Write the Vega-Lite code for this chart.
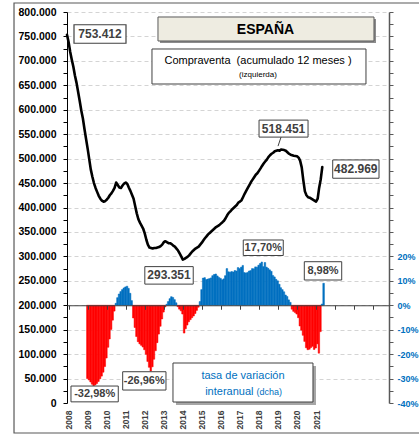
{
"$schema": "https://vega.github.io/schema/vega-lite/v6.json",
"width": 322, "height": 391,
"autosize": {"type": "none"},
"padding": {"left": 67, "top": 12, "right": 30, "bottom": 37},
"background": "#ffffff",
"config": {
  "locale": {"number": {"decimal": ",", "thousands": ".", "grouping": [3], "currency": ["", " €"], "minus": "-"}},
  "view": {"stroke": null},
  "font": "Liberation Sans"
},
"datasets": {
"line": [
{"date":"2007-12-01","value":753412},{"date":"2008-01-01","value":738000},{"date":"2008-02-01","value":718000},{"date":"2008-03-01","value":703000},{"date":"2008-04-01","value":688000},{"date":"2008-05-01","value":670000},{"date":"2008-06-01","value":655000},{"date":"2008-07-01","value":637000},{"date":"2008-08-01","value":618000},{"date":"2008-09-01","value":598000},{"date":"2008-10-01","value":582000},{"date":"2008-11-01","value":560000},{"date":"2008-12-01","value":540000},
{"date":"2009-01-01","value":520000},{"date":"2009-02-01","value":498000},{"date":"2009-03-01","value":478000},{"date":"2009-04-01","value":463000},{"date":"2009-05-01","value":450000},{"date":"2009-06-01","value":440000},{"date":"2009-07-01","value":432000},{"date":"2009-08-01","value":424000},{"date":"2009-09-01","value":418000},{"date":"2009-10-01","value":414000},{"date":"2009-11-01","value":412000},{"date":"2009-12-01","value":413000},
{"date":"2010-01-01","value":416000},{"date":"2010-02-01","value":420000},{"date":"2010-03-01","value":425000},{"date":"2010-04-01","value":429000},{"date":"2010-05-01","value":434000},{"date":"2010-06-01","value":440000},{"date":"2010-07-01","value":451000},{"date":"2010-08-01","value":446000},{"date":"2010-09-01","value":441000},{"date":"2010-10-01","value":440000},{"date":"2010-11-01","value":445000},{"date":"2010-12-01","value":449000},
{"date":"2011-01-01","value":451000},{"date":"2011-02-01","value":448000},{"date":"2011-03-01","value":441000},{"date":"2011-04-01","value":434000},{"date":"2011-05-01","value":426000},{"date":"2011-06-01","value":418000},{"date":"2011-07-01","value":403000},{"date":"2011-08-01","value":388000},{"date":"2011-09-01","value":376000},{"date":"2011-10-01","value":369000},{"date":"2011-11-01","value":363000},{"date":"2011-12-01","value":357000},
{"date":"2012-01-01","value":347000},{"date":"2012-02-01","value":334000},{"date":"2012-03-01","value":324000},{"date":"2012-04-01","value":318000},{"date":"2012-05-01","value":317000},{"date":"2012-06-01","value":316000},{"date":"2012-07-01","value":317000},{"date":"2012-08-01","value":317000},{"date":"2012-09-01","value":318000},{"date":"2012-10-01","value":319000},{"date":"2012-11-01","value":321000},{"date":"2012-12-01","value":324000},
{"date":"2013-01-01","value":329000},{"date":"2013-02-01","value":331000},{"date":"2013-03-01","value":329000},{"date":"2013-04-01","value":327000},{"date":"2013-05-01","value":327000},{"date":"2013-06-01","value":325000},{"date":"2013-07-01","value":322000},{"date":"2013-08-01","value":320000},{"date":"2013-09-01","value":316000},{"date":"2013-10-01","value":312000},{"date":"2013-11-01","value":306000},{"date":"2013-12-01","value":300000},
{"date":"2014-01-01","value":293351},{"date":"2014-02-01","value":295000},{"date":"2014-03-01","value":297000},{"date":"2014-04-01","value":299000},{"date":"2014-05-01","value":302000},{"date":"2014-06-01","value":306000},{"date":"2014-07-01","value":310000},{"date":"2014-08-01","value":313000},{"date":"2014-09-01","value":316000},{"date":"2014-10-01","value":318000},{"date":"2014-11-01","value":320000},{"date":"2014-12-01","value":324000},
{"date":"2015-01-01","value":328000},{"date":"2015-02-01","value":333000},{"date":"2015-03-01","value":337000},{"date":"2015-04-01","value":341000},{"date":"2015-05-01","value":345000},{"date":"2015-06-01","value":348000},{"date":"2015-07-01","value":351000},{"date":"2015-08-01","value":354000},{"date":"2015-09-01","value":357000},{"date":"2015-10-01","value":360000},{"date":"2015-11-01","value":362000},{"date":"2015-12-01","value":364000},
{"date":"2016-01-01","value":367000},{"date":"2016-02-01","value":370000},{"date":"2016-03-01","value":373000},{"date":"2016-04-01","value":378000},{"date":"2016-05-01","value":384000},{"date":"2016-06-01","value":389000},{"date":"2016-07-01","value":392000},{"date":"2016-08-01","value":396000},{"date":"2016-09-01","value":399000},{"date":"2016-10-01","value":402000},{"date":"2016-11-01","value":405000},{"date":"2016-12-01","value":410000},
{"date":"2017-01-01","value":412000},{"date":"2017-02-01","value":415000},{"date":"2017-03-01","value":421000},{"date":"2017-04-01","value":428000},{"date":"2017-05-01","value":434000},{"date":"2017-06-01","value":440000},{"date":"2017-07-01","value":446000},{"date":"2017-08-01","value":452000},{"date":"2017-09-01","value":457000},{"date":"2017-10-01","value":462000},{"date":"2017-11-01","value":467000},{"date":"2017-12-01","value":470000},
{"date":"2018-01-01","value":475000},{"date":"2018-02-01","value":480000},{"date":"2018-03-01","value":485000},{"date":"2018-04-01","value":490000},{"date":"2018-05-01","value":494000},{"date":"2018-06-01","value":498000},{"date":"2018-07-01","value":503000},{"date":"2018-08-01","value":507000},{"date":"2018-09-01","value":510000},{"date":"2018-10-01","value":512000},{"date":"2018-11-01","value":515000},{"date":"2018-12-01","value":516000},
{"date":"2019-01-01","value":517000},{"date":"2019-02-01","value":516000},{"date":"2019-03-01","value":518451},{"date":"2019-04-01","value":518000},{"date":"2019-05-01","value":517500},{"date":"2019-06-01","value":516000},{"date":"2019-07-01","value":513000},{"date":"2019-08-01","value":510000},{"date":"2019-09-01","value":508000},{"date":"2019-10-01","value":507000},{"date":"2019-11-01","value":506000},{"date":"2019-12-01","value":505500},
{"date":"2020-01-01","value":505000},{"date":"2020-02-01","value":502000},{"date":"2020-03-01","value":496000},{"date":"2020-04-01","value":482000},{"date":"2020-05-01","value":456000},{"date":"2020-06-01","value":433000},{"date":"2020-07-01","value":425000},{"date":"2020-08-01","value":421000},{"date":"2020-09-01","value":420000},{"date":"2020-10-01","value":418000},{"date":"2020-11-01","value":416000},{"date":"2020-12-01","value":414000},
{"date":"2021-01-01","value":412000},{"date":"2021-02-01","value":418000},{"date":"2021-03-01","value":440000},{"date":"2021-04-01","value":458000},{"date":"2021-05-01","value":482969}
],
"rate": [
{"date":"2008-12-01","rate":-30.0},
{"date":"2009-01-01","rate":-30.6},{"date":"2009-02-01","rate":-31.4},{"date":"2009-03-01","rate":-32.3},{"date":"2009-04-01","rate":-32.98},{"date":"2009-05-01","rate":-32.6},{"date":"2009-06-01","rate":-32.0},{"date":"2009-07-01","rate":-31.2},{"date":"2009-08-01","rate":-30.1},{"date":"2009-09-01","rate":-29.0},{"date":"2009-10-01","rate":-27.4},{"date":"2009-11-01","rate":-25.1},{"date":"2009-12-01","rate":-21.6},
{"date":"2010-01-01","rate":-17.2},{"date":"2010-02-01","rate":-13.8},{"date":"2010-03-01","rate":-9.9},{"date":"2010-04-01","rate":-6.1},{"date":"2010-05-01","rate":-2.4},{"date":"2010-06-01","rate":0.8},{"date":"2010-07-01","rate":3.1},{"date":"2010-08-01","rate":4.6},{"date":"2010-09-01","rate":5.6},{"date":"2010-10-01","rate":6.4},{"date":"2010-11-01","rate":7.1},{"date":"2010-12-01","rate":7.5},
{"date":"2011-01-01","rate":7.8},{"date":"2011-02-01","rate":6.9},{"date":"2011-03-01","rate":4.9},{"date":"2011-04-01","rate":1.9},{"date":"2011-05-01","rate":-5.2},{"date":"2011-06-01","rate":-9.1},{"date":"2011-07-01","rate":-12.8},{"date":"2011-08-01","rate":-14.9},{"date":"2011-09-01","rate":-15.8},{"date":"2011-10-01","rate":-16.4},{"date":"2011-11-01","rate":-17.1},{"date":"2011-12-01","rate":-18.2},
{"date":"2012-01-01","rate":-20.1},{"date":"2012-02-01","rate":-23.0},{"date":"2012-03-01","rate":-25.4},{"date":"2012-04-01","rate":-26.96},{"date":"2012-05-01","rate":-25.2},{"date":"2012-06-01","rate":-22.1},{"date":"2012-07-01","rate":-18.6},{"date":"2012-08-01","rate":-15.3},{"date":"2012-09-01","rate":-11.8},{"date":"2012-10-01","rate":-8.6},{"date":"2012-11-01","rate":-5.6},{"date":"2012-12-01","rate":-2.8},
{"date":"2013-01-01","rate":-0.7},{"date":"2013-02-01","rate":0.4},{"date":"2013-03-01","rate":1.5},{"date":"2013-04-01","rate":2.7},{"date":"2013-05-01","rate":3.5},{"date":"2013-06-01","rate":3.2},{"date":"2013-07-01","rate":2.3},{"date":"2013-08-01","rate":1.0},{"date":"2013-09-01","rate":-0.6},{"date":"2013-10-01","rate":-1.6},{"date":"2013-11-01","rate":-2.3},{"date":"2013-12-01","rate":-3.6},
{"date":"2014-01-01","rate":-11.4},{"date":"2014-02-01","rate":-9.6},{"date":"2014-03-01","rate":-8.1},{"date":"2014-04-01","rate":-6.8},{"date":"2014-05-01","rate":-5.9},{"date":"2014-06-01","rate":-5.1},{"date":"2014-07-01","rate":-4.4},{"date":"2014-08-01","rate":-3.4},{"date":"2014-09-01","rate":-2.1},{"date":"2014-10-01","rate":-0.8},{"date":"2014-11-01","rate":1.5},{"date":"2014-12-01","rate":6.4},
{"date":"2015-01-01","rate":11.1},{"date":"2015-02-01","rate":11.3},{"date":"2015-03-01","rate":10.5},{"date":"2015-04-01","rate":10.7},{"date":"2015-05-01","rate":10.9},{"date":"2015-06-01","rate":11.2},{"date":"2015-07-01","rate":12.1},{"date":"2015-08-01","rate":12.6},{"date":"2015-09-01","rate":12.8},{"date":"2015-10-01","rate":12.0},{"date":"2015-11-01","rate":11.4},{"date":"2015-12-01","rate":11.0},
{"date":"2016-01-01","rate":10.4},{"date":"2016-02-01","rate":10.8},{"date":"2016-03-01","rate":12.1},{"date":"2016-04-01","rate":15.0},{"date":"2016-05-01","rate":13.7},{"date":"2016-06-01","rate":13.5},{"date":"2016-07-01","rate":13.8},{"date":"2016-08-01","rate":13.6},{"date":"2016-09-01","rate":14.2},{"date":"2016-10-01","rate":14.0},{"date":"2016-11-01","rate":15.4},{"date":"2016-12-01","rate":15.0},
{"date":"2017-01-01","rate":15.6},{"date":"2017-02-01","rate":16.3},{"date":"2017-03-01","rate":13.4},{"date":"2017-04-01","rate":13.2},{"date":"2017-05-01","rate":13.4},{"date":"2017-06-01","rate":14.0},{"date":"2017-07-01","rate":14.2},{"date":"2017-08-01","rate":15.0},{"date":"2017-09-01","rate":14.9},{"date":"2017-10-01","rate":15.7},{"date":"2017-11-01","rate":15.6},{"date":"2017-12-01","rate":16.4},
{"date":"2018-01-01","rate":17.1},{"date":"2018-02-01","rate":17.7},{"date":"2018-03-01","rate":15.8},{"date":"2018-04-01","rate":17.5},{"date":"2018-05-01","rate":15.6},{"date":"2018-06-01","rate":15.1},{"date":"2018-07-01","rate":14.5},{"date":"2018-08-01","rate":13.9},{"date":"2018-09-01","rate":12.2},{"date":"2018-10-01","rate":11.6},{"date":"2018-11-01","rate":10.6},{"date":"2018-12-01","rate":10.0},
{"date":"2019-01-01","rate":8.6},{"date":"2019-02-01","rate":7.2},{"date":"2019-03-01","rate":6.4},{"date":"2019-04-01","rate":5.5},{"date":"2019-05-01","rate":4.2},{"date":"2019-06-01","rate":3.6},{"date":"2019-07-01","rate":2.2},{"date":"2019-08-01","rate":1.2},{"date":"2019-09-01","rate":-1.6},{"date":"2019-10-01","rate":-2.5},{"date":"2019-11-01","rate":-3.0},{"date":"2019-12-01","rate":-3.6},
{"date":"2020-01-01","rate":-5.1},{"date":"2020-02-01","rate":-8.5},{"date":"2020-03-01","rate":-10.2},{"date":"2020-04-01","rate":-12.3},{"date":"2020-05-01","rate":-14.8},{"date":"2020-06-01","rate":-17.4},{"date":"2020-07-01","rate":-18.2},{"date":"2020-08-01","rate":-18.0},{"date":"2020-09-01","rate":-17.3},{"date":"2020-10-01","rate":-16.8},{"date":"2020-11-01","rate":-18.1},{"date":"2020-12-01","rate":-17.5},
{"date":"2021-01-01","rate":-15.8},{"date":"2021-02-01","rate":-19.6},{"date":"2021-03-01","rate":-10.8},{"date":"2021-04-01","rate":0.5},{"date":"2021-05-01","rate":8.98}
]
},
"layer": [
    {
      "data": {"name": "rate"},
      "mark": {"type": "bar", "strokeWidth": 0.5, "binSpacing": 0},
      "encoding": {
        "x": {"field": "date", "type": "temporal", "timeUnit": "utcyearmonth",
              "scale": {"type": "utc", "domain": [{"year": 2007, "month": 12, "date": 1, "utc": true}, {"year": 2024, "month": 11, "date": 1, "utc": true}]},
              "axis": {"orient": "bottom", "offset": -97.75, "title": null, "labels": false, "grid": false, "ticks": true, "tickSize": 4, "tickColor": "#404040", "domain": true, "domainColor": "#404040", "domainWidth": 1, "zindex": 1,
                "values": [{"year":2008,"month":1,"date":1,"utc":true},{"year":2009,"month":1,"date":1,"utc":true},{"year":2010,"month":1,"date":1,"utc":true},{"year":2011,"month":1,"date":1,"utc":true},{"year":2012,"month":1,"date":1,"utc":true},{"year":2013,"month":1,"date":1,"utc":true},{"year":2014,"month":1,"date":1,"utc":true},{"year":2015,"month":1,"date":1,"utc":true},{"year":2016,"month":1,"date":1,"utc":true},{"year":2017,"month":1,"date":1,"utc":true},{"year":2018,"month":1,"date":1,"utc":true},{"year":2019,"month":1,"date":1,"utc":true},{"year":2020,"month":1,"date":1,"utc":true},{"year":2021,"month":1,"date":1,"utc":true},{"year":2022,"month":1,"date":1,"utc":true},{"year":2023,"month":1,"date":1,"utc":true},{"year":2024,"month":1,"date":1,"utc":true}]}},
        "y": {"field": "rate", "type": "quantitative", "scale": {"domain": [-40, 120], "nice": false, "zero": false},
              "axis": {"orient": "right", "title": null, "grid": false, "format": "d",
                "values": [-40,-35,-30,-25,-20,-15,-10,-5,0,5,10,15,20,25,30,35,40,45,50,55,60,65,70,75,80,85,90,95,100,105,110,115,120],
                "labelExpr": "(datum.value <= 20 && datum.value % 10 == 0) ? datum.label + '%' : ''",
                "tickSize": 4, "tickColor": "#595959", "domainColor": "#595959", "domainWidth": 1.5,
                "labelColor": "#0070C0", "labelFont": "Liberation Sans", "labelFontSize": 9, "labelFontWeight": "bold", "labelPadding": 4, "labelOverlap": false, "labelBound": false}},
        "color": {"condition": {"test": "datum.rate < 0", "value": "#FF0000"}, "value": "#0070C0"},
        "stroke": {"condition": {"test": "datum.rate < 0", "value": "#FF0000"}, "value": "#0070C0"}
      }
    },
    {
      "data": {"name": "line"},
      "mark": {"type": "line", "color": "#000000", "strokeWidth": 2.6, "strokeJoin": "round", "strokeCap": "round"},
      "encoding": {
        "x": {"field": "date", "type": "temporal",
              "scale": {"type": "utc", "domain": [{"year": 2007, "month": 12, "date": 1, "utc": true}, {"year": 2024, "month": 11, "date": 1, "utc": true}]},
              "axis": {"orient": "bottom", "title": null, "format": "%Y", "formatType": "utc", "labelAngle": -90, "domain": false, "ticks": false, "tickSize": 0, "grid": false, "labelPadding": 7,
                "labelColor": "#404040", "labelFont": "Liberation Sans", "labelFontSize": 8.5, "labelFontWeight": "bold", "labelOverlap": false, "labelFlush": false, "labelBound": false,
                "values": [{"year":2008,"month":1,"date":1,"utc":true},{"year":2009,"month":1,"date":1,"utc":true},{"year":2010,"month":1,"date":1,"utc":true},{"year":2011,"month":1,"date":1,"utc":true},{"year":2012,"month":1,"date":1,"utc":true},{"year":2013,"month":1,"date":1,"utc":true},{"year":2014,"month":1,"date":1,"utc":true},{"year":2015,"month":1,"date":1,"utc":true},{"year":2016,"month":1,"date":1,"utc":true},{"year":2017,"month":1,"date":1,"utc":true},{"year":2018,"month":1,"date":1,"utc":true},{"year":2019,"month":1,"date":1,"utc":true},{"year":2020,"month":1,"date":1,"utc":true},{"year":2021,"month":1,"date":1,"utc":true}]}},
        "y": {"field": "value", "type": "quantitative", "scale": {"domain": [0, 800000], "nice": false, "zero": false},
              "axis": {"orient": "left", "title": null, "format": ",.0f",
                "values": [0,25000,50000,75000,100000,125000,150000,175000,200000,225000,250000,275000,300000,325000,350000,375000,400000,425000,450000,475000,500000,525000,550000,575000,600000,625000,650000,675000,700000,725000,750000,775000,800000],
                "labelExpr": "datum.value % 50000 == 0 ? datum.label : ''",
                "tickSize": 4, "tickColor": "#000000", "domainColor": "#000000", "domainWidth": 1,
                "labelColor": "#000000", "labelFont": "Liberation Sans", "labelFontSize": 10.5, "labelFontWeight": "bold", "labelPadding": 7, "labelOverlap": false, "labelBound": false,
                "grid": true, "gridColor": "#d4d4d4", "gridDash": [4, 3], "gridWidth": 1,
                "gridOpacity": {"condition": {"test": "datum.value % 50000 == 0 && datum.value > 0", "value": 1}, "value": 0}}}
      }
    },
    {
      "data": {"name": "rate"},
      "transform": [{"filter": "datum.rate == -32.98"}, {"calculate": "format(datum.rate, '.2f') + '%'", "as": "lbl"}],
      "encoding": {
        "x": {"field": "date", "type": "temporal", "scale": {"type": "utc", "domain": [{"year": 2007, "month": 12, "date": 1, "utc": true}, {"year": 2024, "month": 11, "date": 1, "utc": true}]}, "axis": null},
        "y": {"field": "rate", "type": "quantitative", "scale": {"domain": [-40, 120], "nice": false, "zero": false}, "axis": null}
      },
      "layer": [
        {"mark": {"type": "point", "shape": "M-21.4,0.2H25.9V16H-21.4Z", "size": 4, "filled": true, "fill": "#ffffff", "stroke": "#404040", "strokeWidth": 1, "opacity": 1, "fillOpacity": 1, "strokeOpacity": 1}},
        {"mark": {"type": "text", "dx": 2.3, "dy": 8.3, "align": "center", "baseline": "middle", "font": "Liberation Sans", "fontSize": 11, "fontWeight": "bold", "color": "#404040"}, "encoding": {"text": {"field": "lbl"}}}
      ]
    },
    {
      "data": {"name": "rate"},
      "transform": [{"filter": "datum.rate == -26.96"}, {"calculate": "format(datum.rate, '.2f') + '%'", "as": "lbl"}],
      "encoding": {
        "x": {"field": "date", "type": "temporal", "scale": {"type": "utc", "domain": [{"year": 2007, "month": 12, "date": 1, "utc": true}, {"year": 2024, "month": 11, "date": 1, "utc": true}]}, "axis": null},
        "y": {"field": "rate", "type": "quantitative", "scale": {"domain": [-40, 120], "nice": false, "zero": false}, "axis": null}
      },
      "layer": [
        {"mark": {"type": "point", "shape": "M-26.8,0.6H16.5V18.9H-26.8Z", "size": 4, "filled": true, "fill": "#ffffff", "stroke": "#404040", "strokeWidth": 1, "opacity": 1, "fillOpacity": 1, "strokeOpacity": 1}},
        {"mark": {"type": "text", "dx": -5.2, "dy": 10, "align": "center", "baseline": "middle", "font": "Liberation Sans", "fontSize": 11, "fontWeight": "bold", "color": "#404040"}, "encoding": {"text": {"field": "lbl"}}}
      ]
    },
    {
      "data": {"name": "rate"},
      "transform": [{"filter": "datum.rate == 17.7"}, {"calculate": "format(datum.rate, '.2f') + '%'", "as": "lbl"}],
      "encoding": {
        "x": {"field": "date", "type": "temporal", "scale": {"type": "utc", "domain": [{"year": 2007, "month": 12, "date": 1, "utc": true}, {"year": 2024, "month": 11, "date": 1, "utc": true}]}, "axis": null},
        "y": {"field": "rate", "type": "quantitative", "scale": {"domain": [-40, 120], "nice": false, "zero": false}, "axis": null}
      },
      "layer": [
        {"mark": {"type": "point", "shape": "M-17.3,-22H22.7V-6.5H-17.3Z", "size": 4, "filled": true, "fill": "#ffffff", "stroke": "#404040", "strokeWidth": 1, "opacity": 1, "fillOpacity": 1, "strokeOpacity": 1}},
        {"mark": {"type": "text", "dx": 2.7, "dy": -14.2, "align": "center", "baseline": "middle", "font": "Liberation Sans", "fontSize": 11, "fontWeight": "bold", "color": "#404040"}, "encoding": {"text": {"field": "lbl"}}}
      ]
    },
    {
      "data": {"name": "rate"},
      "transform": [{"filter": "datum.rate == 8.98"}, {"calculate": "format(datum.rate, '.2f') + '%'", "as": "lbl"}],
      "encoding": {
        "x": {"field": "date", "type": "temporal", "scale": {"type": "utc", "domain": [{"year": 2007, "month": 12, "date": 1, "utc": true}, {"year": 2024, "month": 11, "date": 1, "utc": true}]}, "axis": null},
        "y": {"field": "rate", "type": "quantitative", "scale": {"domain": [-40, 120], "nice": false, "zero": false}, "axis": null}
      },
      "layer": [
        {"mark": {"type": "point", "shape": "M-18,-21.6H19.4V-3.3H-18Z", "size": 4, "filled": true, "fill": "#ffffff", "stroke": "#404040", "strokeWidth": 1, "opacity": 1, "fillOpacity": 1, "strokeOpacity": 1}},
        {"mark": {"type": "text", "dx": 0.7, "dy": -12.3, "align": "center", "baseline": "middle", "font": "Liberation Sans", "fontSize": 11, "fontWeight": "bold", "color": "#404040"}, "encoding": {"text": {"field": "lbl"}}}
      ]
    },
    {
      "data": {"name": "line"},
      "transform": [{"filter": "datum.value == 753412"}],
      "encoding": {
        "x": {"field": "date", "type": "temporal", "scale": {"type": "utc", "domain": [{"year": 2007, "month": 12, "date": 1, "utc": true}, {"year": 2024, "month": 11, "date": 1, "utc": true}]}, "axis": null},
        "y": {"field": "value", "type": "quantitative", "scale": {"domain": [0, 800000], "nice": false, "zero": false}, "axis": null}
      },
      "layer": [
        {"mark": {"type": "point", "shape": "M7,-10H59V8.5H7Z", "size": 4, "filled": true, "fill": "#ffffff", "stroke": "#404040", "strokeWidth": 1.2, "opacity": 1, "fillOpacity": 1, "strokeOpacity": 1}},
        {"mark": {"type": "text", "dx": 33, "dy": -0.6, "align": "center", "baseline": "middle", "font": "Liberation Sans", "fontSize": 12, "fontWeight": "bold", "color": "#404040"}, "encoding": {"text": {"field": "value", "type": "quantitative", "format": ",.0f"}}}
      ]
    },
    {
      "data": {"name": "line"},
      "transform": [{"filter": "datum.value == 293351"}],
      "encoding": {
        "x": {"field": "date", "type": "temporal", "scale": {"type": "utc", "domain": [{"year": 2007, "month": 12, "date": 1, "utc": true}, {"year": 2024, "month": 11, "date": 1, "utc": true}]}, "axis": null},
        "y": {"field": "value", "type": "quantitative", "scale": {"domain": [0, 800000], "nice": false, "zero": false}, "axis": null}
      },
      "layer": [
        {"mark": {"type": "point", "shape": "M-38,7H10.4V24.5H-38Z", "size": 4, "filled": true, "fill": "#ffffff", "stroke": "#404040", "strokeWidth": 1, "opacity": 1, "fillOpacity": 1, "strokeOpacity": 1}},
        {"mark": {"type": "text", "dx": -13.8, "dy": 15.8, "align": "center", "baseline": "middle", "font": "Liberation Sans", "fontSize": 12, "fontWeight": "bold", "color": "#404040"}, "encoding": {"text": {"field": "value", "type": "quantitative", "format": ",.0f"}}}
      ]
    },
    {
      "data": {"name": "line"},
      "transform": [{"filter": "datum.value == 518451"}],
      "encoding": {
        "x": {"field": "date", "type": "temporal", "scale": {"type": "utc", "domain": [{"year": 2007, "month": 12, "date": 1, "utc": true}, {"year": 2024, "month": 11, "date": 1, "utc": true}]}, "axis": null},
        "y": {"field": "value", "type": "quantitative", "scale": {"domain": [0, 800000], "nice": false, "zero": false}, "axis": null}
      },
      "layer": [
        {"mark": {"type": "point", "shape": "M-22,-29.5H27V-12.5H-22Z M0,-12.5L-3,-3.5", "size": 4, "filled": true, "fill": "#ffffff", "stroke": "#404040", "strokeWidth": 1, "opacity": 1, "fillOpacity": 1, "strokeOpacity": 1}},
        {"mark": {"type": "text", "dx": 2.5, "dy": -21, "align": "center", "baseline": "middle", "font": "Liberation Sans", "fontSize": 12, "fontWeight": "bold", "color": "#404040"}, "encoding": {"text": {"field": "value", "type": "quantitative", "format": ",.0f"}}}
      ]
    },
    {
      "data": {"name": "line"},
      "transform": [{"filter": "datum.value == 482969"}],
      "encoding": {
        "x": {"field": "date", "type": "temporal", "scale": {"type": "utc", "domain": [{"year": 2007, "month": 12, "date": 1, "utc": true}, {"year": 2024, "month": 11, "date": 1, "utc": true}]}, "axis": null},
        "y": {"field": "value", "type": "quantitative", "scale": {"domain": [0, 800000], "nice": false, "zero": false}, "axis": null}
      },
      "layer": [
        {"mark": {"type": "point", "shape": "M10.4,-7H56.7V11.3H10.4Z", "size": 4, "filled": true, "fill": "#ffffff", "stroke": "#404040", "strokeWidth": 1, "opacity": 1, "fillOpacity": 1, "strokeOpacity": 1}},
        {"mark": {"type": "text", "dx": 33.5, "dy": 2.2, "align": "center", "baseline": "middle", "font": "Liberation Sans", "fontSize": 12, "fontWeight": "bold", "color": "#404040"}, "encoding": {"text": {"field": "value", "type": "quantitative", "format": ",.0f"}}}
      ]
    },
    {
      "data": {"values": [{}]},
      "mark": {"type": "rect", "fill": "#8c8c8c", "xOffset": 2, "x2Offset": 2, "yOffset": 2, "y2Offset": 2},
      "encoding": {
        "x": {"datum": {"year": 2012, "month": 9, "date": 11, "utc": true}, "type": "temporal", "scale": {"type": "utc", "domain": [{"year": 2007, "month": 12, "date": 1, "utc": true}, {"year": 2024, "month": 11, "date": 1, "utc": true}]}, "axis": null},
        "x2": {"datum": {"year": 2024, "month": 1, "date": 18, "utc": true}},
        "y": {"datum": 789770, "type": "quantitative", "scale": {"domain": [0, 800000], "nice": false, "zero": false}, "axis": null},
        "y2": {"datum": 740665}
      }
    },
    {
      "data": {"values": [{}]},
      "mark": {"type": "rect", "fill": "#EEECE1", "stroke": "#595959", "strokeWidth": 1},
      "encoding": {
        "x": {"datum": {"year": 2012, "month": 9, "date": 11, "utc": true}, "type": "temporal", "scale": {"type": "utc", "domain": [{"year": 2007, "month": 12, "date": 1, "utc": true}, {"year": 2024, "month": 11, "date": 1, "utc": true}]}, "axis": null},
        "x2": {"datum": {"year": 2024, "month": 1, "date": 18, "utc": true}},
        "y": {"datum": 789770, "type": "quantitative", "scale": {"domain": [0, 800000], "nice": false, "zero": false}, "axis": null},
        "y2": {"datum": 740665}
      }
    },
    {
      "data": {"values": [{}]},
      "mark": {"type": "text", "text": "ESPAÑA", "align": "center", "baseline": "middle", "font": "Liberation Sans", "fontSize": 14, "fontWeight": "bold", "color": "#000000"},
      "encoding": {
        "x": {"datum": {"year": 2018, "month": 5, "date": 7, "utc": true}, "type": "temporal", "scale": {"type": "utc", "domain": [{"year": 2007, "month": 12, "date": 1, "utc": true}, {"year": 2024, "month": 11, "date": 1, "utc": true}]}, "axis": null},
        "y": {"datum": 763171, "type": "quantitative", "scale": {"domain": [0, 800000], "nice": false, "zero": false}, "axis": null}
      }
    },
    {
      "data": {"values": [{}]},
      "mark": {"type": "rect", "fill": "#ffffff", "stroke": "#404040", "strokeWidth": 1},
      "encoding": {
        "x": {"datum": {"year": 2012, "month": 5, "date": 19, "utc": true}, "type": "temporal", "scale": {"type": "utc", "domain": [{"year": 2007, "month": 12, "date": 1, "utc": true}, {"year": 2024, "month": 11, "date": 1, "utc": true}]}, "axis": null},
        "x2": {"datum": {"year": 2023, "month": 8, "date": 17, "utc": true}},
        "y": {"datum": 724297, "type": "quantitative", "scale": {"domain": [0, 800000], "nice": false, "zero": false}, "axis": null},
        "y2": {"datum": 652685}
      }
    },
    {
      "data": {"values": [{}]},
      "mark": {"type": "text", "text": "Compraventa\u00a0 (acumulado 12 meses )", "align": "center", "baseline": "middle", "font": "Liberation Sans", "fontSize": 11, "color": "#000000"},
      "encoding": {
        "x": {"datum": {"year": 2017, "month": 12, "date": 14, "utc": true}, "type": "temporal", "scale": {"type": "utc", "domain": [{"year": 2007, "month": 12, "date": 1, "utc": true}, {"year": 2024, "month": 11, "date": 1, "utc": true}]}, "axis": null},
        "y": {"datum": 699000, "type": "quantitative", "scale": {"domain": [0, 800000], "nice": false, "zero": false}, "axis": null}
      }
    },
    {
      "data": {"values": [{}]},
      "mark": {"type": "text", "text": "(izquierda)", "align": "center", "baseline": "middle", "font": "Liberation Sans", "fontSize": 8, "color": "#000000"},
      "encoding": {
        "x": {"datum": {"year": 2017, "month": 12, "date": 14, "utc": true}, "type": "temporal", "scale": {"type": "utc", "domain": [{"year": 2007, "month": 12, "date": 1, "utc": true}, {"year": 2024, "month": 11, "date": 1, "utc": true}]}, "axis": null},
        "y": {"datum": 672000, "type": "quantitative", "scale": {"domain": [0, 800000], "nice": false, "zero": false}, "axis": null}
      }
    },
    {
      "data": {"values": [{}]},
      "mark": {"type": "rect", "fill": "#a6a6a6", "xOffset": 3, "x2Offset": 3, "yOffset": 3, "y2Offset": 3},
      "encoding": {
        "x": {"datum": {"year": 2013, "month": 6, "date": 26, "utc": true}, "type": "temporal", "scale": {"type": "utc", "domain": [{"year": 2007, "month": 12, "date": 1, "utc": true}, {"year": 2024, "month": 11, "date": 1, "utc": true}]}, "axis": null},
        "x2": {"datum": {"year": 2020, "month": 11, "date": 3, "utc": true}},
        "y": {"datum": 81841, "type": "quantitative", "scale": {"domain": [0, 800000], "nice": false, "zero": false}, "axis": null},
        "y2": {"datum": 2046}
      }
    },
    {
      "data": {"values": [{}]},
      "mark": {"type": "rect", "fill": "#ffffff", "stroke": "#404040", "strokeWidth": 1},
      "encoding": {
        "x": {"datum": {"year": 2013, "month": 6, "date": 26, "utc": true}, "type": "temporal", "scale": {"type": "utc", "domain": [{"year": 2007, "month": 12, "date": 1, "utc": true}, {"year": 2024, "month": 11, "date": 1, "utc": true}]}, "axis": null},
        "x2": {"datum": {"year": 2020, "month": 11, "date": 3, "utc": true}},
        "y": {"datum": 81841, "type": "quantitative", "scale": {"domain": [0, 800000], "nice": false, "zero": false}, "axis": null},
        "y2": {"datum": 2046}
      }
    },
    {
      "data": {"values": [{}]},
      "mark": {"type": "text", "text": "tasa de variación", "align": "center", "baseline": "middle", "font": "Liberation Sans", "fontSize": 11, "color": "#0070C0"},
      "encoding": {
        "x": {"datum": {"year": 2017, "month": 3, "date": 1, "utc": true}, "type": "temporal", "scale": {"type": "utc", "domain": [{"year": 2007, "month": 12, "date": 1, "utc": true}, {"year": 2024, "month": 11, "date": 1, "utc": true}]}, "axis": null},
        "y": {"datum": 55243, "type": "quantitative", "scale": {"domain": [0, 800000], "nice": false, "zero": false}, "axis": null}
      }
    },
    {
      "data": {"values": [{}]},
      "mark": {"type": "text", "text": "interanual", "align": "right", "baseline": "middle", "dx": 10.5, "font": "Liberation Sans", "fontSize": 11, "color": "#0070C0"},
      "encoding": {
        "x": {"datum": {"year": 2017, "month": 3, "date": 1, "utc": true}, "type": "temporal", "scale": {"type": "utc", "domain": [{"year": 2007, "month": 12, "date": 1, "utc": true}, {"year": 2024, "month": 11, "date": 1, "utc": true}]}, "axis": null},
        "y": {"datum": 23124, "type": "quantitative", "scale": {"domain": [0, 800000], "nice": false, "zero": false}, "axis": null}
      }
    },
    {
      "data": {"values": [{}]},
      "mark": {"type": "text", "text": "(dcha)", "align": "left", "baseline": "middle", "dx": 13.5, "dy": 0.5, "font": "Liberation Sans", "fontSize": 9, "color": "#0070C0"},
      "encoding": {
        "x": {"datum": {"year": 2017, "month": 3, "date": 1, "utc": true}, "type": "temporal", "scale": {"type": "utc", "domain": [{"year": 2007, "month": 12, "date": 1, "utc": true}, {"year": 2024, "month": 11, "date": 1, "utc": true}]}, "axis": null},
        "y": {"datum": 23124, "type": "quantitative", "scale": {"domain": [0, 800000], "nice": false, "zero": false}, "axis": null}
      }
    },
    {
      "data": {"values": [{}]},
      "mark": {"type": "rect", "fill": null, "fillOpacity": 0, "stroke": "#595959", "strokeWidth": 1.2},
      "encoding": {
        "x": {"datum": {"year": 2005, "month": 2, "date": 17, "utc": true}, "type": "temporal", "scale": {"type": "utc", "domain": [{"year": 2007, "month": 12, "date": 1, "utc": true}, {"year": 2024, "month": 11, "date": 1, "utc": true}]}, "axis": null},
        "x2": {"datum": {"year": 2026, "month": 9, "date": 1, "utc": true}},
        "y": {"datum": 818414, "type": "quantitative", "scale": {"domain": [0, 800000], "nice": false, "zero": false}, "axis": null},
        "y2": {"datum": -61381}
      }
    }
],
"resolve": {"scale": {"y": "independent"}, "axis": {"x": "independent", "y": "independent"}}
}
